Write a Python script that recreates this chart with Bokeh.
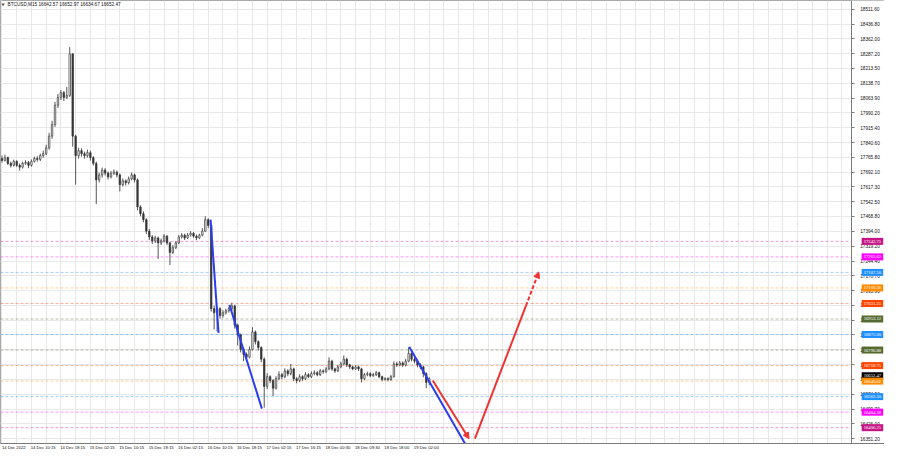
from bokeh.plotting import figure
from bokeh.models import FixedTicker, Label, Arrow, NormalHead, Range1d, NumeralTickFormatter, ColumnDataSource
from bokeh.embed import file_html
from bokeh.resources import INLINE

# ---------------- data ----------------
first_open = 17760
closes = [17751,17765,17736,17726,17746,17726,17717,17736,17741,17726,
          17746,17761,17756,17775,17785,17814,17873,17931,18029,18068,
          18092,18068,18078,18287,17873,17775,17800,17785,17775,17790,
          17765,17736,17653,17678,17702,17687,17668,17687,17692,17678,
          17629,17648,17639,17658,17678,17653,17517,17483,17453,17395,
          17366,17346,17361,17336,17346,17370,17336,17288,17312,17336,
          17366,17375,17361,17375,17385,17370,17361,17375,17395,17453,
          17424,17005,16985,17005,16971,16985,16995,17005,17019,16922,
          16873,16800,16775,16761,16800,16888,16839,16810,16751,16614,
          16663,16644,16605,16653,16673,16663,16692,16678,16702,16653,
          16644,16663,16653,16673,16663,16678,16683,16673,16692,16688,
          16702,16741,16702,16692,16712,16727,16751,16722,16712,16702,
          16712,16702,16653,16673,16678,16668,16673,16683,16663,16649,
          16653,16649,16663,16727,16722,16732,16722,16741,16780,16751,
          16741,16722,16712,16678,16634,16652.47]
highs = [17775,17780,17770,17745,17755,17752,17735,17745,17752,17748,
         17756,17770,17772,17785,17800,17830,17890,17950,18045,18085,
         18105,18100,18120,18321,18290,17880,17815,17812,17795,17805,
         17800,17772,17745,17690,17715,17712,17695,17698,17705,17700,
         17685,17660,17655,17670,17690,17685,17660,17525,17495,17460,
         17405,17375,17372,17368,17358,17380,17375,17342,17325,17345,
         17375,17385,17382,17386,17395,17390,17378,17382,17410,17470,
         17460,17430,17020,17015,17012,16998,17005,17015,17035,17025,
         16930,16880,16810,16785,16815,16912,16895,16845,16815,16760,
         16680,16670,16650,16665,16690,16682,16705,16700,16727,16708,
         16660,16675,16670,16685,16680,16690,16695,16690,16702,16700,
         16712,16761,16748,16708,16722,16738,16770,16758,16728,16718,
         16720,16718,16708,16682,16688,16685,16682,16692,16688,16668,
         16660,16660,16672,16740,16738,16742,16740,16752,16810,16785,
         16760,16748,16730,16718,16685,16660]
lows = [17740,17745,17728,17715,17720,17718,17700,17710,17728,17712,
        17720,17740,17745,17748,17765,17778,17805,17860,17920,18015,
        18055,18050,18060,18070,17820,17629,17760,17770,17760,17765,
        17750,17725,17531,17640,17665,17675,17655,17660,17678,17665,
        17595,17620,17625,17630,17650,17640,17500,17470,17440,17380,
        17350,17330,17335,17255,17325,17338,17325,17225,17280,17305,
        17330,17358,17350,17355,17368,17362,17350,17355,17368,17390,
        17410,16990,16900,16890,16955,16960,16975,16985,16995,16905,
        16820,16785,16741,16745,16755,16795,16825,16795,16735,16507,
        16600,16630,16565,16598,16645,16650,16655,16665,16670,16640,
        16630,16636,16642,16646,16655,16656,16670,16665,16666,16678,
        16680,16695,16692,16682,16686,16705,16720,16712,16702,16695,
        16696,16692,16634,16645,16665,16660,16662,16666,16655,16640,
        16642,16640,16642,16658,16712,16715,16712,16715,16735,16740,
        16730,16710,16700,16660,16605,16620]

time_tick_idx = [0, 10, 20, 30, 40, 50, 60, 70, 80, 90, 100, 110, 120, 130, 140]
time_tick_labels = ["14 Dec 2022", "14 Dec 10:15", "14 Dec 18:15", "15 Dec 02:15",
                    "15 Dec 10:15", "15 Dec 18:15", "16 Dec 02:15", "16 Dec 10:15",
                    "16 Dec 18:15", "17 Dec 02:15", "17 Dec 16:15", "18 Dec 00:30",
                    "18 Dec 09:30", "18 Dec 18:00", "19 Dec 02:00"]

price_ticks = [18511.60, 18436.80, 18362.00, 18287.20, 18213.50, 18138.70, 18063.90,
               17990.20, 17915.40, 17840.60, 17765.80, 17692.10, 17617.30, 17542.50,
               17468.80, 17394.00, 17319.20, 17244.40, 17170.70, 17095.90, 17021.10,
               16947.40, 16872.60, 16797.80, 16724.10, 16649.30, 16574.50, 16499.70,
               16426.00, 16351.20]

levels = [17343.75, 17265.625, 17187.5, 17109.375, 17031.25, 16953.125, 16875.0,
          16796.875, 16718.75, 16640.625, 16562.5, 16484.375, 16406.25]
level_labels = ["17343.75", "17265.62", "17187.50", "17109.38", "17031.25", "16953.12",
                "16875.00", "16796.88", "16718.75", "16640.62", "16562.50", "16484.38",
                "16406.25"]
level_colors = ["#C71585", "#FF00FF", "#1E90FF", "#FF8C00", "#FF4500", "#556B2F",
                "#1E90FF", "#556B2F", "#FF4500", "#FF8C00", "#1E90FF", "#FF00FF",
                "#C71585"]

last_price = 16652.47
last_label = "16652.47"
title_text = "BTCUSD,M15  16642.57 16652.97 16634.67 16652.47"

# trend lines (bar index, price)
blue_x0 = [70.8, 77.2, 138.2]
blue_y0 = [17453, 17024, 16814]
blue_x1 = [73.5, 88.2, 157.5]
blue_y1 = [16883, 16502, 16317]

red1 = (146.2, 16644, 158.5, 16351)
red2 = (160.5, 16351, 177.8, 17019)
red2_dash = (177.8, 17019, 182.2, 17190)

# ---------------- figure ----------------
FONT = "Liberation Sans"
FS = "4.7px"
FS_X = "4.2px"
X0, X1 = -0.5, 299.5          # whole chart incl. price scale area
AXIS_X = 288.2                # where the price scale line sits
LAB_X = 295.4                 # centre of price-scale labels
Y0, Y1 = 16326.7, 18555.5

p = figure(width=884, height=452, output_backend="svg", toolbar_location=None,
           x_range=Range1d(X0, X1), y_range=Range1d(Y0, Y1),
           y_axis_location="right", min_border=0)
p.background_fill_color = "white"
p.outline_line_color = "#a8a8a8"

# price axis (placed inside the frame at AXIS_X)
p.yaxis.fixed_location = AXIS_X
p.yaxis.ticker = FixedTicker(ticks=price_ticks)
p.yaxis.formatter = NumeralTickFormatter(format="0.00")
p.yaxis.major_label_text_font = FONT
p.yaxis.major_label_text_font_size = FS
p.yaxis.major_label_text_color = "#111111"
p.yaxis.major_tick_out = 3
p.yaxis.major_tick_in = 0
p.yaxis.minor_tick_line_color = None
p.yaxis.major_label_standoff = 6
p.yaxis.axis_line_color = "#7a7a7a"
p.yaxis.major_tick_line_color = "#7a7a7a"

label_pos = [i + 4 for i in time_tick_idx]
p.xaxis.ticker = FixedTicker(ticks=label_pos)
p.xaxis.major_label_overrides = {pos: lab for pos, lab in zip(label_pos, time_tick_labels)}
p.xaxis.major_label_text_font = FONT
p.xaxis.major_label_text_font_size = FS_X
p.xaxis.major_label_text_color = "#111111"
p.xaxis.major_tick_line_color = None
p.xaxis.major_tick_out = 0
p.xaxis.major_tick_in = 0
p.xaxis.minor_tick_line_color = None
p.xaxis.major_label_standoff = 1
p.xaxis.axis_line_color = "#7a7a7a"

p.xgrid.ticker = FixedTicker(ticks=list(range(0, 290, 5)))
p.xgrid.grid_line_color = "#e8e8e8"
p.ygrid.grid_line_color = "#e8e8e8"

# blank out the grid behind the price scale
p.quad(left=[AXIS_X], right=[X1], bottom=[Y0], top=[Y1], fill_color="white", line_color=None)

# Murrey levels (stop at the price scale)
lsrc = ColumnDataSource(dict(y=levels, c=level_colors, t=level_labels,
                             xa=[X0] * len(levels), xb=[AXIS_X] * len(levels)))
p.segment(x0="xa", y0="y", x1="xb", y1="y", source=lsrc, line_color="c",
          line_dash="3 2", line_alpha=0.42, line_width=1)

# candles
xs = list(range(len(closes)))
opens = [first_open] + closes[:-1]
tops = [max(o, c) for o, c in zip(opens, closes)]
bots = [min(o, c) for o, c in zip(opens, closes)]
fills = ["white" if c >= o else "#333333" for o, c in zip(opens, closes)]
csrc = ColumnDataSource(dict(x=xs, h=highs, l=lows, t=tops, b=bots, f=fills))
p.segment(x0="x", y0="h", x1="x", y1="l", source=csrc, line_color="#444444", line_width=0.9)
p.vbar(x="x", width=0.5, top="t", bottom="b", source=csrc, fill_color="f",
       line_color="#3a3a3a", line_width=0.7)

# blue trend lines
p.segment(x0=blue_x0, y0=blue_y0, x1=blue_x1, y1=blue_y1, line_color="#2b3df2", line_width=2)

# red forecast arrows
RED = "#f03232"
p.add_layout(Arrow(x_start=red1[0], y_start=red1[1], x_end=red1[2], y_end=red1[3],
                   line_color=RED, line_width=2,
                   end=NormalHead(size=6, fill_color=RED, line_color=RED)))
p.segment(x0=[red2[0]], y0=[red2[1]], x1=[red2[2]], y1=[red2[3]], line_color=RED, line_width=2)
p.add_layout(Arrow(x_start=red2_dash[0], y_start=red2_dash[1], x_end=red2_dash[2], y_end=red2_dash[3],
                   line_color=RED, line_width=2, line_dash="4 2",
                   end=NormalHead(size=6, fill_color=RED, line_color=RED)))

# level labels on the price scale (drawn above the axis)
p.text(x=[LAB_X], y=[last_price], text=[last_label], text_color="white",
       text_font=FONT, text_font_size=FS, text_align="center", text_baseline="middle",
       y_offset=-3, background_fill_color="black", padding=2, level="overlay")
lsrc2 = ColumnDataSource(dict(y=levels, c=level_colors, t=level_labels, x=[LAB_X] * len(levels)))
p.text(x="x", y="y", text="t", source=lsrc2, text_color="white",
       text_font=FONT, text_font_size=FS, text_align="center", text_baseline="middle",
       background_fill_color="c", padding=2, level="overlay")

# title
p.add_layout(Label(x=X0, y=Y1, x_offset=1, y_offset=-4, text="\u25BC",
                   text_font="DejaVu Sans", text_font_size="4px", text_color="#555555",
                   text_baseline="middle"))
p.add_layout(Label(x=X0, y=Y1, x_offset=7, y_offset=-4, text=title_text,
                   text_font=FONT, text_font_size=FS, text_color="#111111",
                   text_baseline="middle"))

open("out.html", "w").write(file_html(p, INLINE))
